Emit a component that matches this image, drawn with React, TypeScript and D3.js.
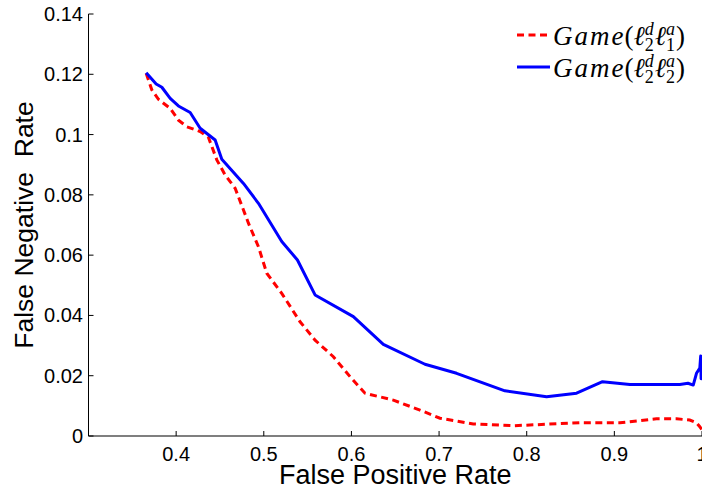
import React from "react";
import * as d3 from "d3";

const W = 702;
const H = 493;

// Series 1: Game(l2d l1a) — red dashed
const redFPR = [0.3658, 0.3723, 0.3798, 0.3932, 0.4026, 0.4122, 0.4274, 0.4368, 0.4464, 0.4559, 0.4673, 0.4768, 0.4825, 0.4939, 0.5034, 0.5205, 0.5414, 0.5585, 0.5794, 0.5984, 0.6155, 0.6478, 0.6782, 0.701, 0.739, 0.7846, 0.8227, 0.8607, 0.9063, 0.948, 0.971, 0.986, 0.9937, 0.9975, 1.0];
const redFNR = [0.1203, 0.1148, 0.1117, 0.1087, 0.1048, 0.1026, 0.101, 0.0991, 0.0916, 0.0866, 0.0822, 0.075, 0.0706, 0.0628, 0.054, 0.0473, 0.0379, 0.0318, 0.0263, 0.0197, 0.0142, 0.0119, 0.0086, 0.0059, 0.004, 0.0034, 0.0039, 0.0044, 0.0044, 0.0057, 0.0057, 0.0053, 0.0044, 0.0031, 0.002];

// Series 2: Game(l2d l2a) — blue solid
const blueFPR = [0.3658, 0.3772, 0.3837, 0.3932, 0.4026, 0.416, 0.4274, 0.4445, 0.4521, 0.4768, 0.4939, 0.5205, 0.5384, 0.5585, 0.6022, 0.6364, 0.6839, 0.72, 0.7751, 0.8227, 0.8569, 0.8865, 0.9177, 0.9747, 0.984, 0.99, 0.9937, 0.9975, 0.9985, 0.999, 1.0, 1.0];
const blueFNR = [0.1205, 0.1168, 0.1157, 0.112, 0.1095, 0.1073, 0.1021, 0.0982, 0.0918, 0.0838, 0.0772, 0.0645, 0.0584, 0.0468, 0.0396, 0.0304, 0.0238, 0.0208, 0.015, 0.013, 0.0142, 0.018, 0.0171, 0.0171, 0.0175, 0.0169, 0.0208, 0.0225, 0.0265, 0.019, 0.023, 0.021];

const xTicks = [0.4, 0.5, 0.6, 0.7, 0.8, 0.9, 1.0];
const xTickLabels = ["0.4", "0.5", "0.6", "0.7", "0.8", "0.9", "1"];
const yTicks = [0, 0.02, 0.04, 0.06, 0.08, 0.1, 0.12, 0.14];
const yTickLabels = ["0", "0.02", "0.04", "0.06", "0.08", "0.1", "0.12", "0.14"];

const xLabel = "False Positive Rate";
const yLabel = "False Negative  Rate";

export default function App() {
  const left = 88.5;
  const right = 702;
  const top = 14;
  const bottom = 436;
  const x = d3.scaleLinear().domain([0.3, 1.0]).range([left, right]);
  const y = d3.scaleLinear().domain([0, 0.14]).range([bottom, top]);

  const line = d3
    .line<[number, number]>()
    .x((d) => x(d[0]))
    .y((d) => y(d[1]));

  const redPts = redFPR.map((v, i) => [v, redFNR[i]] as [number, number]);
  const bluePts = blueFPR.map((v, i) => [v, blueFNR[i]] as [number, number]);

  const font = "Liberation Sans, Arial, Helvetica, sans-serif";
  const serif = "Liberation Serif, Times New Roman, serif";

  const legendEntry = (yy: number, sub: string, color: string, dashed: boolean) => (
    <g>
      <line x1={517} x2={550} y1={yy} y2={yy} stroke={color} strokeWidth={3} strokeDasharray={dashed ? "7,4.5" : undefined} />
      <text x={553} y={yy + 10} fontFamily={serif} fontSize={27} fill="#000">
        <tspan fontStyle="italic" letterSpacing={2}>Game</tspan>
        <tspan dx={-1}>(</tspan>
        <tspan fontStyle="italic">ℓ</tspan>
        <tspan fontStyle="italic" fontSize={18} dy={-10}>d</tspan>
        <tspan fontSize={18} dx={-9} dy={16}>2</tspan>
        <tspan fontStyle="italic" dx={1} dy={-6}>ℓ</tspan>
        <tspan fontStyle="italic" fontSize={18} dy={-10}>a</tspan>
        <tspan fontSize={18} dx={-9} dy={16}>{sub}</tspan>
        <tspan dx={1} dy={-6}>)</tspan>
      </text>
    </g>
  );

  return (
    <svg width={W} height={H} style={{ position: "absolute", left: 0, top: 0, background: "#fff" }}>
      <rect x={0} y={0} width={W} height={H} fill="#fff" />
      {/* axes */}
      <line x1={left} x2={right} y1={bottom} y2={bottom} stroke="#555" strokeWidth={1.5} />
      <line x1={left} x2={left} y1={top} y2={bottom} stroke="#000" strokeWidth={1} />
      {xTicks.map((t, i) => (
        <g key={"x" + i}>
          <line x1={x(t)} x2={x(t)} y1={bottom} y2={bottom - 5} stroke="#000" strokeWidth={1} />
          <text x={x(t)} y={461} textAnchor="middle" fontFamily={font} fontSize={20} fill="#000">
            {xTickLabels[i]}
          </text>
        </g>
      ))}
      {yTicks.map((t, i) => (
        <g key={"y" + i}>
          <line x1={left} x2={left + 5} y1={y(t)} y2={y(t)} stroke="#000" strokeWidth={1} />
          <text x={83} y={y(t) + 7} textAnchor="end" fontFamily={font} fontSize={20} fill="#000">
            {yTickLabels[i]}
          </text>
        </g>
      ))}
      <text x={(left + right) / 2} y={484} textAnchor="middle" fontFamily={font} fontSize={27} fill="#000">
        {xLabel}
      </text>
      <text
        transform={`translate(33,${(top + bottom) / 2}) rotate(-90)`}
        textAnchor="middle"
        fontFamily={font}
        fontSize={26.5}
        fill="#000"
        style={{ whiteSpace: "pre" }}
      >
        {yLabel}
      </text>
      {/* series */}
      <path d={line(redPts) || ""} fill="none" stroke="#ff0000" strokeWidth={3} strokeDasharray="7,4.5" />
      <path d={line(bluePts) || ""} fill="none" stroke="#0000ff" strokeWidth={3} strokeLinejoin="round" />
      {/* legend */}
      {legendEntry(35, "1", "#ff0000", true)}
      {legendEntry(67, "2", "#0000ff", false)}
    </svg>
  );
}
